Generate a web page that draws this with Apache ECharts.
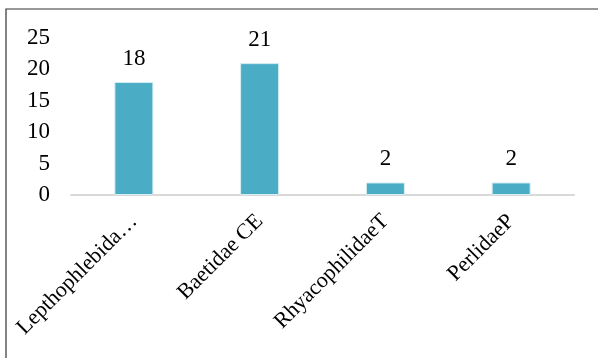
<!DOCTYPE html>
<html>
<head>
<meta charset="utf-8">
<script src="https://cdn.jsdelivr.net/npm/echarts@6/dist/echarts.min.js"></script>
<style>
  html, body { margin: 0; padding: 0; background: #fff; }
</style>
</head>
<body>
<div id="main" style="width: 598px;height:358px;"></div>
<script>
const categories = ['Lepthophlebidae E', 'Baetidae CE', 'RhyacophilidaeT', 'PerlidaeP']
const counts = [18, 21, 2, 2]
const yTicks = [0, 5, 10, 15, 20, 25]

const font = '"Liberation Serif", "Times New Roman", serif'
const myChart = echarts.init(document.getElementById('main'))
const option = {
  animation: false,
  graphic: [
    {
      type: 'rect',
      shape: { x: 6, y: 9, width: 700, height: 500 },
      style: { fill: 'none', stroke: '#333', lineWidth: 1.2 }
    }
  ],
  grid: {
    left: 71,
    right: 24,
    top: 38,
    bottom: 163
  },
  xAxis: {
    type: 'category',
    data: categories,
    axisLine: { lineStyle: { color: '#d9d9d9', width: 2 } },
    axisTick: { show: false },
    axisLabel: {
      rotate: 45,
      interval: 0,
      margin: 23,
      color: '#000',
      fontFamily: font,
      fontSize: 22,
      formatter: function (v) {
        // long names get cut like in the original
        return v.length > 15 ? v.slice(0, 14) + '…' : v
      }
    }
  },
  yAxis: {
    type: 'value',
    min: yTicks[0],
    max: yTicks[yTicks.length - 1],
    interval: 5,
    splitLine: { show: false },
    axisLine: { show: false },
    axisTick: { show: false },
    axisLabel: {
      margin: 21,
      color: '#000',
      fontFamily: font,
      fontSize: 23
    }
  },
  series: [
    {
      type: 'bar',
      data: counts,
      barWidth: 39,
      itemStyle: {
        color: '#4bacc6',
        borderColor: '#d6eef4',
        borderWidth: 1
      },
      label: {
        show: true,
        position: 'top',
        distance: 12,
        color: '#000',
        fontFamily: font,
        fontSize: 23
      }
    }
  ]
}
myChart.setOption(option)
</script>
</body>
</html>
